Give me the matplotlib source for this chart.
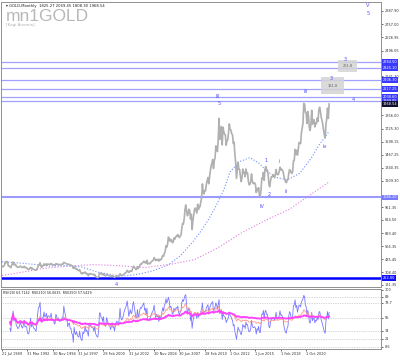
#!/usr/bin/python3
# coding: utf-8

'''
Monthly gold chart (MT4 style) with Elliott wave marks and three RSI lines
'''

import matplotlib
matplotlib.use('Agg')
import matplotlib.pyplot as plt
import numpy as np
import pandas as pd

# monthly closes, one entry per chart bar (Jul 1989 .. Mar 2023)
closes_1989_1995 = [
    368, 360, 366, 375, 408, 401,
    415, 407, 368, 368, 363, 352, 372, 387, 408, 380, 384, 386,
    366, 362, 355, 357, 360, 368, 362, 356, 354, 359, 366, 353,
    354, 353, 341, 336, 337, 343, 357, 340, 349, 339, 334, 333,
    330, 327, 337, 355, 377, 378, 401, 372, 355, 369, 371, 391,
    378, 381, 391, 376, 387, 387, 384, 385, 394, 383, 383, 383,
    375, 376, 392, 389, 384, 387, 383, 382, 384, 383, 387, 387,
]
closes_1996_2002 = [
    405, 400, 396, 392, 391, 382, 385, 386, 379, 379, 371, 369,
    345, 364, 348, 340, 345, 334, 326, 324, 332, 311, 296, 290,
    304, 297, 301, 310, 293, 296, 288, 273, 293, 292, 294, 288,
    287, 287, 279, 286, 268, 261, 256, 254, 262, 299, 299, 291, 290,
    283, 293, 277, 274, 272, 289, 284, 277, 274, 273, 264, 269, 274,
    265, 266, 257, 263, 268, 270, 267, 265, 273, 293, 279, 275, 277,
    282, 290, 296, 301, 308, 326, 318, 304, 312, 323, 316, 319, 347,
]
closes_2003_2009 = [
    367, 358, 347, 334, 336, 364, 346, 354, 375, 388, 386, 398, 405, 416,
    402, 410, 396, 426, 388, 393, 395, 391, 407, 415, 420, 428, 452, 438,
    422, 435, 428, 435, 417, 436, 429, 433, 455, 473, 465, 495, 513,
    569, 556, 582, 654, 643, 613, 632, 623, 599, 604, 646, 632,
    650, 665, 662, 679, 659, 650, 666, 672, 743, 789, 783, 834,
    923, 972, 916, 865, 885, 930, 913, 833, 880, 730, 815, 869,
    928, 942, 917, 891, 979, 927, 954, 955, 1004, 1040, 1180, 1096,
]
closes_2010_2016 = [
    1082, 1116, 1113, 1179, 1213, 1244, 1181, 1248, 1307, 1359, 1386, 1421,
    1332, 1409, 1439, 1556, 1536, 1500, 1628, 1826, 1620, 1722, 1746, 1565,
    1740, 1694, 1669, 1664, 1562, 1604, 1614, 1687, 1772, 1719, 1712, 1675,
    1664, 1579, 1595, 1472, 1393, 1234, 1312, 1395, 1326, 1323, 1250, 1202,
    1244, 1326, 1284, 1296, 1250, 1327, 1282, 1287, 1210, 1171, 1175, 1199,
    1278, 1213, 1183, 1184, 1190, 1172, 1095, 1134, 1114, 1142, 1065, 1061,
    1116, 1237, 1233, 1293, 1215, 1321, 1351, 1309, 1316, 1273, 1173, 1152,
]
closes_2017_2023 = [
    1211, 1249, 1248, 1268, 1268, 1242, 1269, 1321, 1280, 1270, 1275, 1303,
    1345, 1318, 1325, 1315, 1299, 1253, 1224, 1201, 1192, 1215, 1222, 1282,
    1321, 1313, 1292, 1283, 1305, 1409, 1413, 1520, 1472, 1513, 1464, 1517,
    1589, 1585, 1577, 1686, 1730, 1781, 1975, 1967, 1886, 1879, 1777, 1895,
    1848, 1734, 1708, 1769, 1907, 1770, 1814, 1814, 1743, 1783, 1774, 1829,
    1797, 1909, 1937, 1897, 1838, 1807, 1766, 1711, 1661, 1633, 1769, 1824,
    1928, 1827, 1969,
]

# moving averages (bar index, price)
ma_fast_bars = [0, 20, 40, 60, 80, 100, 120, 140, 155, 170, 190, 210, 225, 240,
                250, 260, 270, 280, 288, 300, 313, 325, 335, 348, 360, 376, 390,
                400, 413]
ma_fast_vals = [410, 400, 385, 368, 372, 360, 310, 280, 272, 285, 320, 380, 470,
                600, 700, 820, 960, 1120, 1300, 1400, 1440, 1380, 1300, 1240,
                1220, 1285, 1430, 1560, 1700]
ma_slow_bars = [0, 27, 54, 84, 115, 146, 181, 212, 243, 273, 303, 333, 363, 387, 413]
ma_slow_vals = [275, 310, 347, 368, 383, 372, 354, 385, 432, 550, 700, 820, 930,
                1060, 1200]

# horizontal levels and their axis boxes
level_prices = [2384.50, 2325.10, 2206.30, 2117.25, 2038.60, 1999.85, 1046.20, 252.80]
last_price = 1968.54

price_ticks = [181.35, 308.40, 435.45, 566.35, 693.40, 824.50, 951.35, 1209.30,
               1340.35, 1467.25, 1598.15, 1725.30, 1856.00, 2241.30, 2496.05,
               2626.95, 2757.00, 2887.90]

rsi_levels = [89, 78.7, 55, 34, 21, 8.6]
rsi_tick_labels = ['100', '89', '78.7', '55', '34', '21', '8.6']

date_labels = ['21 Jul 1989', '31 Mar 1992', '30 Nov 1994', '31 Jul 1997',
               '29 Feb 2000', '31 Jul 2002', '30 Nov 2004', '30 Jun 2007',
               '28 Feb 2010', '1 Oct 2012', '1 Jun 2015', '1 Feb 2018',
               '1 Oct 2020']

title_text = '\u25be GOLD,Monthly  1825.27 2069.45 1808.30 1968.54'
rsi_text = 'RSI(20) 63.7142  RSI(210) 56.0635  RSI(250) 57.5429'

# (text, bar, price)
wave_labels = [
    ('V', 462, 2945), ('5', 462, 2866), ('3', 433, 2404), ('3', 416, 2217),
    ('4', 443, 2009), ('iii', 383, 2090), ('iv', 408, 1545), ('III', 273, 2040),
    ('5', 274, 1970), ('1', 333, 1408), ('i', 350, 1398), ('2', 337, 1072),
    ('ii', 359, 1102), ('IV', 328, 953), ('4', 144, 183),
]

closes = pd.Series(closes_1989_1995 + closes_1996_2002 + closes_2003_2009 +
                   closes_2010_2016 + closes_2017_2023, dtype=float)
bars = np.arange(len(closes))


def rsi(series, n):
    d = series.diff()
    up = d.clip(lower=0).ewm(alpha=1.0 / n, adjust=True, min_periods=10).mean()
    dn = (-d).clip(lower=0).ewm(alpha=1.0 / n, adjust=True, min_periods=10).mean()
    return 100 - 100 / (1 + up / dn)


BLUE_TXT = '#5050ff'
FS = 2.5

fig = plt.figure(figsize=(4, 3.6), dpi=100)
fig.patch.set_facecolor('white')
xlim = (-1.3, 478.5)

# ---- price panel
ax = fig.add_axes([0.0025, 0.2028, 0.95, 0.7917])
ax.set_xlim(*xlim)
ax.set_ylim(161.6, 2976.8)

for i, lv in enumerate(level_prices):
    if i < 6:
        col, lw, box = '#a0a0ff', 0.9, '#3a3aff'
    elif i == 6:
        col, lw, box = '#9a9aff', 1.5, '#7a7aff'
    else:
        col, lw, box = '#0000ff', 1.8, '#1010ff'
    ax.axhline(lv, color=col, lw=lw, zorder=1)
    ax.text(1.004, lv, '%.2f' % lv, transform=ax.get_yaxis_transform(),
            fontsize=FS, color='white', va='center', ha='left', clip_on=False,
            bbox=dict(boxstyle='square,pad=0.25', fc=box, ec='none'))
ax.text(1.004, last_price, '%.2f' % last_price, transform=ax.get_yaxis_transform(),
        fontsize=FS, color='white', va='center', ha='left', clip_on=False,
        bbox=dict(boxstyle='square,pad=0.25', fc='#101030', ec='none'))

ax.plot(ma_slow_bars, ma_slow_vals, ls=':', color='#e080e0', lw=0.8, zorder=2)
ax.plot(ma_fast_bars, ma_fast_vals, ls=':', color='#6f8fff', lw=0.8, zorder=2)
ax.plot(bars, closes, color='#b0b0b0', lw=1.2, zorder=3)

for txt, bx, py in wave_labels:
    ax.text(bx, py, txt, fontsize=3.6, color=BLUE_TXT, ha='center', va='center',
            zorder=5)
ax.text(436, 2346, '261.8', fontsize=2.6, color='#606060', ha='center', va='center',
        bbox=dict(boxstyle='square,pad=1.2', fc='#d4d4d4', ec='none', alpha=0.85))
ax.text(417, 2150, '161.8', fontsize=2.6, color='#606060', ha='center', va='center',
        bbox=dict(boxstyle='square,pad=1.8', fc='#d4d4d4', ec='none', alpha=0.85))

ax.text(0.012, 0.993, title_text, transform=ax.transAxes, fontsize=2.7,
        color='#202020', va='top', ha='left')
ax.text(0.012, 0.975, 'mn1GOLD', transform=ax.transAxes, fontsize=12.5,
        family='Liberation Sans', color='#b8b8b8', va='top', ha='left')
ax.text(0.012, 0.925, '[Kagi Anomia]', transform=ax.transAxes, fontsize=2.9,
        color='#b0b0b0', va='top', ha='left')

ax.yaxis.tick_right()
ax.set_yticks(price_ticks)
ax.set_yticklabels(['%.2f' % t for t in price_ticks])
ax.tick_params(axis='y', labelsize=FS, length=1.5, width=0.5, pad=1,
               colors='#303030')
ax.set_xticks([])
for s in ax.spines.values():
    s.set_color('#909090')
    s.set_linewidth(0.7)

# ---- RSI panel
ax2 = fig.add_axes([0.0025, 0.0306, 0.95, 0.1666])
ax2.set_xlim(*xlim)
ax2.set_ylim(5, 101)
for lv in rsi_levels:
    ax2.axhline(lv, color='#b0b0b0', ls=(0, (1, 1.5)), lw=0.5, zorder=1)
ax2.plot(bars, rsi(closes, 8), color='#7878ff', lw=0.6, zorder=3)
ax2.plot(bars, rsi(closes, 40), color='#ff9a8a', lw=0.6, zorder=4)
ax2.plot(bars, rsi(closes, 250), color='#ff40ff', lw=1.3, zorder=5)
ax2.text(0.006, 0.97, rsi_text, transform=ax2.transAxes, fontsize=2.3,
         color='#202020', va='top', ha='left')

ax2.yaxis.tick_right()
ax2.set_yticks([100] + rsi_levels)
ax2.set_yticklabels(rsi_tick_labels)
ax2.tick_params(axis='y', labelsize=FS, length=1.5, width=0.5, pad=1,
                colors='#303030')
ax2.set_xticks(np.arange(len(date_labels)) * 32)
ax2.set_xticklabels(date_labels, ha='left')
ax2.tick_params(axis='x', labelsize=2.5, length=1.5, width=0.5, pad=1,
                colors='#303030')
for s in ax2.spines.values():
    s.set_color('#909090')
    s.set_linewidth(0.7)

plt.savefig('out.png', dpi=100)
plt.close()
